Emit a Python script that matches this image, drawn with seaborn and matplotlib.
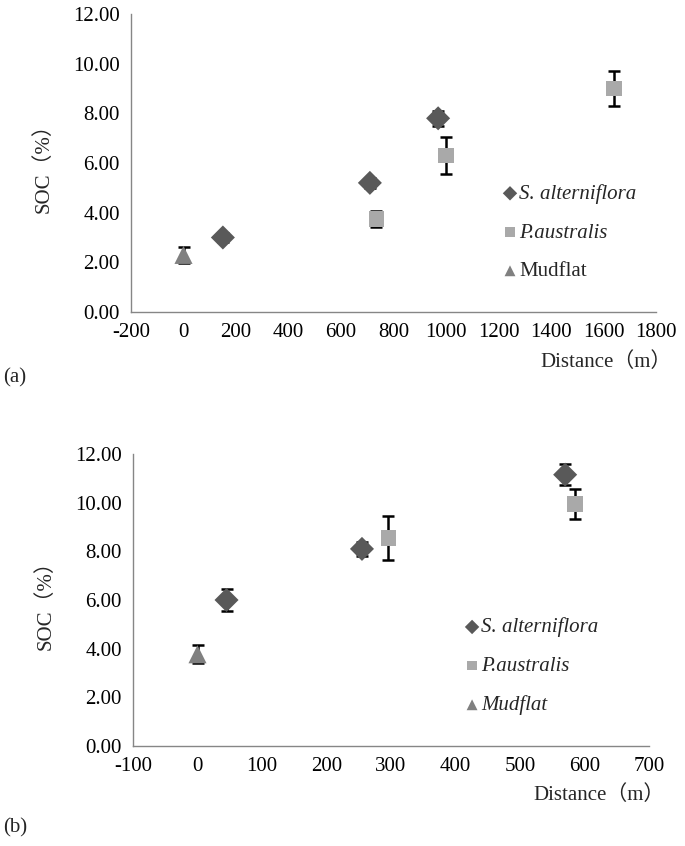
import matplotlib
matplotlib.use("Agg")
import matplotlib.pyplot as plt
import numpy as np
import pandas as pd
import seaborn as sns

# ---- data ----
groups = ["S. alterniflora", "P.australis", "Mudflat"]

a_sa_x = [150, 710, 970]
a_sa_y = [3.0, 5.2, 7.8]
a_sa_err = [0.2, 0.2, 0.3]
a_pa_x = [735, 1000, 1640]
a_pa_y = [3.75, 6.3, 9.0]
a_pa_err = [0.33, 0.75, 0.72]
a_mf_x = [0]
a_mf_y = [2.3]
a_mf_err = [0.32]

b_sa_x = [45, 255, 570]
b_sa_y = [6.0, 8.1, 11.15]
b_sa_err = [0.46, 0.3, 0.43]
b_pa_x = [296, 585]
b_pa_y = [8.55, 9.95]
b_pa_err = [0.9, 0.62]
b_mf_x = [0]
b_mf_y = [3.77]
b_mf_err = [0.37]

y_ticks = [0, 2, 4, 6, 8, 10, 12]
a_x_ticks = list(range(-200, 1801, 200))
b_x_ticks = list(range(-100, 701, 100))

palette = {"S. alterniflora": "#595959", "P.australis": "#a9a9a9", "Mudflat": "#808080"}
markers = {"S. alterniflora": "D", "P.australis": "s", "Mudflat": "^"}
sizes = {"S. alterniflora": 150, "P.australis": 130, "Mudflat": 170}


def make_frame(sa, pa, mf):
    rows = []
    for name, (xs, ys, es) in zip(groups, [sa, pa, mf]):
        for x, y, e in zip(xs, ys, es):
            rows.append({"Distance": x, "SOC": y, "err": e, "Site": name})
    return pd.DataFrame(rows)


df_a = make_frame((a_sa_x, a_sa_y, a_sa_err), (a_pa_x, a_pa_y, a_pa_err), (a_mf_x, a_mf_y, a_mf_err))
df_b = make_frame((b_sa_x, b_sa_y, b_sa_err), (b_pa_x, b_pa_y, b_pa_err), (b_mf_x, b_mf_y, b_mf_err))

sns.set_theme(style="white")
plt.rcParams["font.family"] = ["Liberation Serif", "Noto Sans CJK SC", "DejaVu Sans"]

fig = plt.figure(figsize=(6.85, 8.46), dpi=100)
W, H = 685, 846
FS = 15


def px_axes(left, top, right, bottom):
    return fig.add_axes([left / W, 1 - bottom / H, (right - left) / W, (bottom - top) / H])


ax_a = px_axes(131, 14, 656, 312)
ax_b = px_axes(133, 454, 649, 746)


def draw_panel(ax, df, xticks, leg_anchor, italic_mudflat):
    # error bars behind markers
    ax.errorbar(df["Distance"], df["SOC"], yerr=df["err"], fmt="none",
                ecolor="black", elinewidth=1.8, capsize=4, capthick=1.8, zorder=2)
    for name in groups:
        sub = df[df["Site"] == name]
        sns.scatterplot(data=sub, x="Distance", y="SOC", ax=ax, color=palette[name],
                        marker=markers[name], s=sizes[name], edgecolor="none",
                        linewidth=0, zorder=3, label=name)

    ax.set_xlim(xticks[0], xticks[-1])
    ax.set_ylim(0, 12)
    ax.set_xticks(xticks)
    ax.set_xticklabels([str(t) for t in xticks])
    ax.set_yticks(y_ticks)
    ax.set_yticklabels([f"{t:.2f}" for t in y_ticks])
    ax.tick_params(axis="both", direction="out", length=5, width=1, color="#868686",
                   labelsize=FS, labelcolor="black", pad=3)
    for side in ["top", "right"]:
        ax.spines[side].set_visible(False)
    for side in ["left", "bottom"]:
        ax.spines[side].set_color("#868686")
        ax.spines[side].set_linewidth(1)
    ax.set_ylabel("SOC（%）", fontsize=FS, labelpad=14)
    ax.set_xlabel("Distance（m）", fontsize=FS, ha="right")
    ax.xaxis.set_label_coords(1.03, -0.135)

    handles, labels = ax.get_legend_handles_labels()
    leg = ax.legend(handles, labels, loc="upper left", bbox_to_anchor=leg_anchor,
                    frameon=False, fontsize=FS, handlelength=0.6, handletextpad=0.15,
                    labelspacing=0.92, borderpad=0, borderaxespad=0, markerscale=0.6)
    for t in leg.get_texts():
        if t.get_text() != "Mudflat" or italic_mudflat:
            t.set_fontstyle("italic")


draw_panel(ax_a, df_a, a_x_ticks, (0.71, 0.43), italic_mudflat=False)
draw_panel(ax_b, df_b, b_x_ticks, (0.645, 0.44), italic_mudflat=True)

fig.text(3 / W, 1 - 378 / H, "(a)", fontsize=FS, va="center", ha="left")
fig.text(3 / W, 1 - 828 / H, "(b)", fontsize=FS, va="center", ha="left")

fig.savefig("out.png", dpi=100)
